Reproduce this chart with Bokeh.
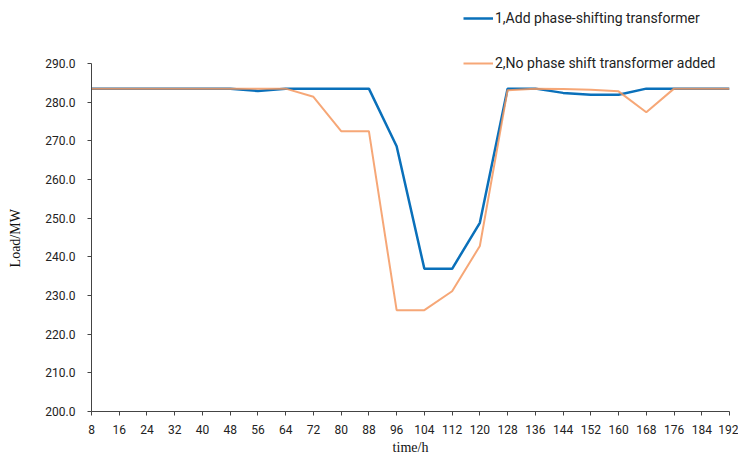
from bokeh.plotting import figure
from bokeh.models import Range1d, FixedTicker, PrintfTickFormatter, Legend, LegendItem
from bokeh.embed import file_html
from bokeh.resources import INLINE

hours = [8, 16, 24, 32, 40, 48, 56, 64, 72, 80, 88, 96, 104, 112, 120, 128,
         136, 144, 152, 160, 168, 176, 184, 192]
with_pst = [283.5, 283.5, 283.5, 283.5, 283.5, 283.5, 282.9, 283.5, 283.5, 283.5,
            283.5, 268.6, 236.9, 236.9, 248.8, 283.5, 283.5, 282.4, 281.9, 281.9,
            283.5, 283.5, 283.5, 283.5]
without_pst = [283.5, 283.5, 283.5, 283.5, 283.5, 283.5, 283.5, 283.5, 281.4, 272.5,
               272.5, 226.2, 226.2, 231.1, 242.8, 283.1, 283.5, 283.4, 283.2, 282.8,
               277.4, 283.5, 283.5, 283.5]
series_names = ["1,Add phase-shifting transformer", "2,No phase shift transformer added"]
y_ticks = [200, 210, 220, 230, 240, 250, 260, 270, 280, 290]
y_title = "Load/MW"
x_title = "time/h"

TICK_FONT = "Roboto"

# y range extends above 290 so that the legend sits inside the frame;
# the axis line itself is bounded to 200..290
p = figure(width=738, height=460, output_backend="svg", toolbar_location=None,
           x_range=Range1d(8, 192), y_range=Range1d(200, 305),
           min_border_left=91, min_border_right=9, min_border_top=5, min_border_bottom=49)
p.outline_line_color = None
p.xgrid.grid_line_color = None
p.ygrid.grid_line_color = None

blue = "#0A70BA"
orange = "#F5985F"
r1 = p.line(hours, with_pst, line_color=blue, line_width=2.5)
r2 = p.line(hours, without_pst, line_color=orange, line_width=2, line_alpha=0.85)

for ax in (p.xaxis[0], p.yaxis[0]):
    ax.axis_line_color = "#444444"
    ax.major_tick_line_color = "#444444"
    ax.minor_tick_line_color = None
    ax.major_tick_in = 0
    ax.major_tick_out = 4
    ax.major_label_text_font = TICK_FONT
    ax.major_label_text_font_size = "12px"
    ax.major_label_text_color = "#222222"
    ax.axis_label_text_font = "Liberation Serif"
    ax.axis_label_text_font_style = "normal"
    ax.axis_label_text_font_size = "14px"
    ax.axis_label_text_color = "#111111"

p.xaxis.ticker = FixedTicker(ticks=hours)
p.yaxis.ticker = FixedTicker(ticks=y_ticks)
p.yaxis.bounds = (200, 290)
p.yaxis.formatter = PrintfTickFormatter(format="%.1f")
p.xaxis.axis_label = x_title
# the label is centred on the (taller) frame; trailing no-break spaces move the
# visible text down to the middle of the 200..290 axis
p.yaxis.axis_label = y_title + "\u00a0" * 17
p.xaxis.major_label_standoff = 9
p.xaxis.axis_label_standoff = 3
p.yaxis.major_label_standoff = 12
p.yaxis.axis_label_standoff = 19

legend = Legend(items=[LegendItem(label=series_names[0], renderers=[r1]),
                       LegendItem(label=series_names[1], renderers=[r2])],
                location=(372, 338), orientation="vertical",
                label_text_font=TICK_FONT, label_text_font_size="14px",
                label_text_color="#222222",
                glyph_width=30, glyph_height=20, label_height=20,
                label_standoff=2, spacing=25, padding=0, margin=0,
                border_line_color=None, background_fill_alpha=0)
p.add_layout(legend, "center")

open("out.html", "w").write(file_html(p, INLINE))
